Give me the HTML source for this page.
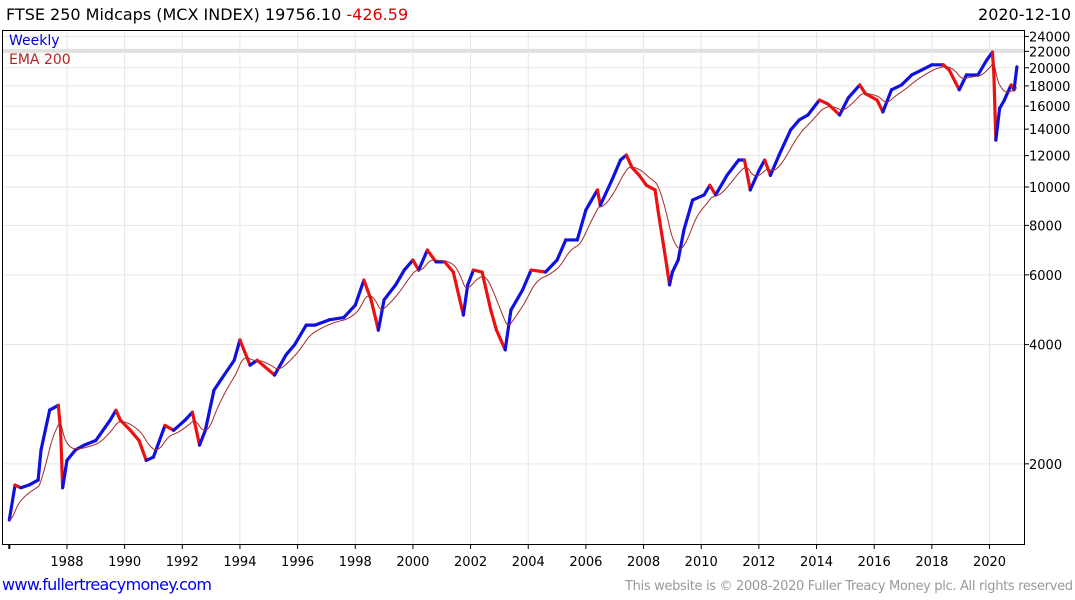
<!DOCTYPE html>
<html><head><meta charset="utf-8"><style>
body{margin:0;background:#fff;font-family:"DejaVu Sans","Liberation Sans",sans-serif}
svg{display:block;font-family:"DejaVu Sans","Liberation Sans",sans-serif}
</style></head><body>
<svg id="c" width="1075" height="600">
<text x="6" y="20" font-size="16" fill="#000">FTSE 250 Midcaps (MCX INDEX) 19756.10 <tspan fill="#e00000">-426.59</tspan></text>
<text x="1071" y="20" font-size="16" text-anchor="end" fill="#000">2020-12-10</text>
<g id="grid"></g>
<g id="series"></g>
<rect x="2.5" y="30.5" width="1022" height="514" fill="none" stroke="#000"/>
<text x="9" y="45" font-size="14" fill="#0000dd">Weekly</text>
<text x="9" y="64" font-size="14" fill="#b22222">EMA 200</text>
<g id="axes"></g>
<text x="2" y="590" font-size="16" fill="#0000ee" textLength="210">www.fullertreacymoney.com</text>
<text x="625" y="590" font-size="13" fill="#999" textLength="448">This website is © 2008-2020 Fuller Treacy Money plc. All rights reserved</text>
</svg>
<script>
const years=[1986.0,1986.2,1986.4,1986.7,1987.0,1987.1,1987.4,1987.7,1987.78,1987.85,1988.0,1988.3,1988.6,1989.0,1989.5,1989.7,1989.85,1990.2,1990.5,1990.75,1991.0,1991.4,1991.7,1992.1,1992.35,1992.6,1992.8,1993.1,1993.45,1993.8,1994.0,1994.35,1994.6,1995.0,1995.2,1995.6,1995.9,1996.3,1996.6,1997.1,1997.6,1998.0,1998.3,1998.55,1998.8,1999.0,1999.4,1999.7,2000.0,2000.2,2000.5,2000.8,2001.1,2001.4,2001.75,2001.9,2002.1,2002.4,2002.7,2002.9,2003.2,2003.4,2003.8,2004.1,2004.6,2005.0,2005.3,2005.7,2006.0,2006.4,2006.5,2006.9,2007.2,2007.4,2007.6,2007.85,2008.1,2008.4,2008.5,2008.8,2008.9,2009.0,2009.2,2009.4,2009.7,2010.1,2010.3,2010.5,2010.9,2011.3,2011.5,2011.7,2012.0,2012.2,2012.4,2012.7,2013.1,2013.4,2013.7,2014.1,2014.4,2014.8,2015.1,2015.5,2015.7,2016.1,2016.3,2016.6,2016.95,2017.3,2017.65,2018.0,2018.4,2018.6,2018.95,2019.2,2019.6,2019.9,2020.1,2020.15,2020.22,2020.35,2020.5,2020.75,2020.85,2020.95];
const values=[1443,1768,1740,1770,1820,2167,2734,2810,2430,1740,2040,2170,2230,2290,2580,2730,2580,2430,2290,2040,2080,2500,2430,2580,2700,2230,2430,3070,3350,3650,4110,3550,3650,3450,3350,3770,4000,4480,4480,4620,4680,5030,5820,5190,4350,5190,5660,6170,6540,6170,6930,6470,6470,6100,4750,5660,6170,6100,4890,4350,3880,4890,5490,6170,6100,6540,7350,7350,8750,9830,8990,10400,11700,12040,11200,10700,10100,9830,8750,6350,5660,6100,6540,7790,9270,9550,10100,9550,10720,11700,11700,9830,10990,11700,10700,12040,13930,14770,15200,16580,16200,15200,16780,18100,17200,16580,15470,17600,18100,19180,19750,20350,20350,19750,17600,19180,19180,20900,21900,19400,13140,15800,16500,18100,17600,20100];
const emaLen=40;
const yTicks=[2000,4000,6000,8000,10000,12000,14000,16000,18000,20000,22000,24000];
const xTicks=[1988,1990,1992,1994,1996,1998,2000,2002,2004,2006,2008,2010,2012,2014,2016,2018,2020];
const NS="http://www.w3.org/2000/svg";
const X=y=>9.3+(y-1986)*28.83;
const Y=v=>187-172*Math.log(v/10000);
function mk(t,a,p){const e=document.createElementNS(NS,t);for(const k in a)e.setAttribute(k,a[k]);p.appendChild(e);return e;}
const grid=document.getElementById('grid'),ser=document.getElementById('series'),ax=document.getElementById('axes');
yTicks.forEach(v=>{
 const l=mk('line',{x1:3,x2:1025,y1:Y(v),y2:Y(v),stroke:'#e6e6e6','stroke-width':1},grid);
 
 
 const t=mk('text',{x:1029,y:Y(v)+5,'font-size':13,fill:'#000'},ax);t.textContent=v;
 
 
 mk('line',{x1:1025,x2:1029,y1:Y(v),y2:Y(v),stroke:'#000'},ax);
});
const band=mk('line',{x1:3,x2:1025,y1:Y(values[values.length-1])-16,y2:Y(values[values.length-1])-16,stroke:'#e0e0e0','stroke-width':4},grid);


xTicks.forEach(y=>{
 const l=mk('line',{x1:X(y),x2:X(y),y1:31,y2:544,stroke:'#e6e6e6'},grid);
 
 
 mk('line',{x1:X(y),x2:X(y),y1:544,y2:549,stroke:'#000'},ax);
 const t=mk('text',{x:X(y),y:566,'font-size':13,'text-anchor':'middle',fill:'#000'},ax);t.textContent=y;
 
 
});
mk('line',{x1:X(1986),x2:X(1986),y1:544,y2:549,stroke:'#000','stroke-width':2},ax);
for(let i=1;i<years.length;i++){
 const up=values[i]>=values[i-1];
 const s=mk('line',{x1:X(years[i-1]),y1:Y(values[i-1]),x2:X(years[i]),y2:Y(values[i]),stroke:up?'#1010e0':'#ee1010','stroke-width':3.2,'stroke-linecap':'round'},ser);
 
 
}
let pts=[],ema=values[0],j=0;
for(let t=years[0];t<=years[years.length-1];t+=1/52){
 while(j<years.length-2&&years[j+1]<t)j++;
 const f=(t-years[j])/(years[j+1]-years[j]);
 const v=Math.exp(Math.log(values[j])+(Math.log(values[j+1])-Math.log(values[j]))*Math.min(1,Math.max(0,f)));
 ema=ema+(2/(emaLen+1))*(v-ema);
 pts.push(X(t).toFixed(1)+','+Y(ema).toFixed(1));
}
const e=mk('polyline',{points:pts.join(' '),fill:'none',stroke:'#a52a2a','stroke-width':1},ser);


</script>
</body></html>
